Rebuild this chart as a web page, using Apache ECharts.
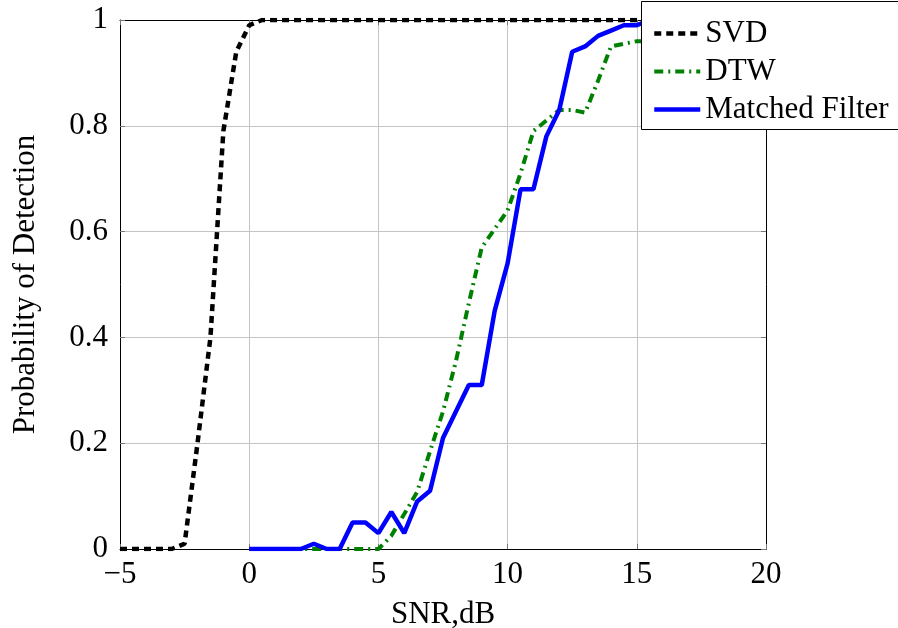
<!DOCTYPE html>
<html>
<head>
<meta charset="utf-8">
<script src="https://cdn.jsdelivr.net/npm/echarts@6/dist/echarts.min.js"></script>
<style>
  html, body { margin: 0; padding: 0; background: #fff; }
  #chart { width: 898px; height: 628px; }
</style>
</head>
<body>
<div id="chart"></div>
<script>
// SNR grid in dB
const snr = [-5, -4.5, -4, -3.5, -3, -2.5, -2, -1.5, -1, -0.5,
  0, 0.5, 1, 1.5, 2, 2.5, 3, 3.5, 4, 4.5,
  5, 5.5, 6, 6.5, 7, 7.5, 8, 8.5, 9, 9.5,
  10, 10.5, 11, 11.5, 12, 12.5, 13, 13.5, 14, 14.5,
  15, 15.5, 16, 16.5, 17, 17.5, 18, 18.5, 19, 19.5, 20];

// Probability of detection for each detector (null = not evaluated)
const pdSVD = [0, 0, 0, 0, 0, 0.01, 0.2, 0.4, 0.79, 0.94,
  0.99, 1, 1, 1, 1, 1, 1, 1, 1, 1,
  1, 1, 1, 1, 1, 1, 1, 1, 1, 1,
  1, 1, 1, 1, 1, 1, 1, 1, 1, 1,
  1, 1, 1, 1, 1, 1, 1, 1, 1, 1, 1];

const pdDTW = [null, null, null, null, null, null, null, null, null, null,
  0, 0, 0, 0, 0, 0, 0, 0, 0, 0,
  0, 0.025, 0.066, 0.108, 0.185, 0.26, 0.355, 0.465, 0.57, 0.605,
  0.64, 0.71, 0.79, 0.81, 0.83, 0.83, 0.825, 0.885, 0.95, 0.955,
  0.96, 0.96, 0.97, 0.97, 0.97, 0.98, 0.98, 0.98, 0.99, 0.99, 0.99];

const pdMF = [null, null, null, null, null, null, null, null, null, null,
  0, 0, 0, 0, 0, 0.01, 0, 0, 0.05, 0.05,
  0.03, 0.07, 0.03, 0.09, 0.11, 0.21, 0.26, 0.31, 0.31, 0.45,
  0.54, 0.68, 0.68, 0.78, 0.83, 0.94, 0.95, 0.97, 0.98, 0.99,
  0.99, 1, 1, 1, 1, 1, 1, 1, 1, 1, 1];

const xTicks = { min: -5, max: 20, interval: 5 };
const yTicks = { min: 0, max: 1, interval: 0.2 };

const pairs = ys => snr.map((x, i) => [x, ys[i]]);

const FONT = '"Liberation Serif", "Times New Roman", serif';
const FS = 31;
const fmtNum = v => (v < 0 ? '\u2212' + Math.abs(v) : String(v));

const tickStyle = { show: true, inside: true, length: 5, lineStyle: { color: '#777', width: 1 } };
const frameLine = { show: true, onZero: false, lineStyle: { color: '#000', width: 1 } };
const gridLine = { show: true, lineStyle: { color: '#c4c4c4', width: 1 } };

const chart = echarts.init(document.getElementById('chart'), null, { renderer: 'canvas' });

chart.setOption({
  animation: false,
  backgroundColor: '#fff',
  grid: { left: 120, top: 20, width: 646, height: 529, containLabel: false, outerBoundsMode: 'none' },
  // legend frame: runs past the right edge of the canvas
  graphic: [{
    type: 'rect', z: 5,
    shape: { x: 641.5, y: 1.5, width: 320, height: 128 },
    style: { fill: '#fff', stroke: '#000', lineWidth: 1 }
  }],
  xAxis: [
    {
      type: 'value', position: 'bottom', ...xTicks,
      axisLine: frameLine, axisTick: tickStyle, splitLine: gridLine,
      axisLabel: { formatter: fmtNum, color: '#000', fontFamily: FONT, fontSize: FS, margin: 10 },
      name: 'SNR,dB', nameLocation: 'middle', nameGap: 50,
      nameTextStyle: { color: '#000', fontFamily: FONT, fontSize: FS }
    },
    {
      type: 'value', position: 'top', ...xTicks,
      axisLine: frameLine, axisTick: tickStyle, splitLine: { show: false },
      axisLabel: { show: false }
    }
  ],
  yAxis: [
    {
      type: 'value', position: 'left', ...yTicks,
      axisLine: frameLine, axisTick: tickStyle, splitLine: gridLine,
      axisLabel: { formatter: v => String(+v.toFixed(1)), color: '#000', fontFamily: FONT, fontSize: FS, margin: 12 },
      name: 'Probability of Detection', nameLocation: 'middle', nameGap: 79,
      nameTextStyle: { color: '#000', fontFamily: FONT, fontSize: FS }
    },
    {
      type: 'value', position: 'right', ...yTicks,
      axisLine: frameLine, axisTick: tickStyle, splitLine: { show: false },
      axisLabel: { show: false }
    }
  ],
  legend: {
    orient: 'vertical',
    left: 641, top: 1, z: 10,
    padding: [17, 4, 8, 11],
    itemWidth: 46, itemHeight: 30, itemGap: 7,
    itemStyle: { opacity: 0 },
    lineStyle: { width: 'inherit', type: 'inherit' },
    textStyle: { color: '#000', fontFamily: FONT, fontSize: 31, lineHeight: 30 },
    backgroundColor: 'transparent',
    borderWidth: 0,
    data: ['SVD', 'DTW', 'Matched Filter']
  },
  series: [
    {
      name: 'SVD', type: 'line', data: pairs(pdSVD), symbol: 'none', z: 2,
      lineStyle: { color: '#000', width: 4.5, type: [7, 5] },
      itemStyle: { color: '#000' }
    },
    {
      name: 'DTW', type: 'line', data: pairs(pdDTW), symbol: 'none', z: 2,
      lineStyle: { color: '#008000', width: 4, type: [9, 5, 2, 5] },
      itemStyle: { color: '#008000' }
    },
    {
      name: 'Matched Filter', type: 'line', data: pairs(pdMF), symbol: 'none', z: 2,
      lineStyle: { color: '#0000ff', width: 4.5 },
      itemStyle: { color: '#0000ff' }
    }
  ]
});
</script>
</body>
</html>
